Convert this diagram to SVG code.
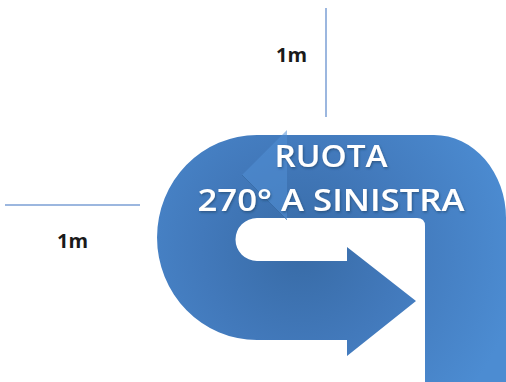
<svg xmlns="http://www.w3.org/2000/svg" width="506" height="382" viewBox="0 0 506 382">
<style>
.dim{stroke:#7b9fd4;stroke-width:1.5;fill:none}
.lbl{font-family:"Open Sans","Liberation Sans",sans-serif;font-weight:bold;font-size:19px;fill:#1a1a1a}
.big{font-family:"Open Sans","Liberation Sans",sans-serif;font-weight:600;font-size:31px;fill:#ffffff;text-anchor:middle}
</style>
<defs>
<radialGradient id="g" cx="300" cy="250" r="220" gradientUnits="userSpaceOnUse">
<stop offset="0" stop-color="#386ba6"/>
<stop offset="0.45" stop-color="#4279bb"/>
<stop offset="1" stop-color="#4c8cd2"/>
</radialGradient>
<filter id="sh" x="-10%" y="-10%" width="120%" height="130%">
<feDropShadow dx="1" dy="1.5" stdDeviation="1" flood-color="#1f3f66" flood-opacity="0.6"/>
</filter>
</defs>
<g id="connectors">
<line class="dim" x1="326" y1="8" x2="326" y2="117"/>
<line class="dim" x1="5" y1="205" x2="140" y2="205"/>
</g>
<g id="label-top"><text class="lbl" x="276" y="62" textLength="31" lengthAdjust="spacingAndGlyphs">1m</text></g>
<g id="label-left"><text class="lbl" x="57" y="248" textLength="31" lengthAdjust="spacingAndGlyphs">1m</text></g>
<g id="uturn">
<path fill="url(#g)" d="M506 382 L506 218 A72 83 0 0 0 434 135 L257 135 A100 102.5 0 0 0 257 340 L347 340 L347 356 L416 301 L347 247 L347 261 L257 261 A21.5 21.5 0 0 1 257 218 L417 218 Q425 218 425 226 L425 382 Z"/>
<path fill="#5290d6" opacity="0.55" d="M287 130 L242 175 L287 220 Z"/>
<path stroke="#2f5f96" stroke-width="1" opacity="0.5" fill="none" d="M242 175 L287 220"/>
</g>
<g id="title" filter="url(#sh)">
<text class="big" x="331" y="167" textLength="113" lengthAdjust="spacingAndGlyphs">RUOTA</text>
<text class="big" x="331" y="211" textLength="267" lengthAdjust="spacingAndGlyphs">270° A SINISTRA</text>
</g>
</svg>
